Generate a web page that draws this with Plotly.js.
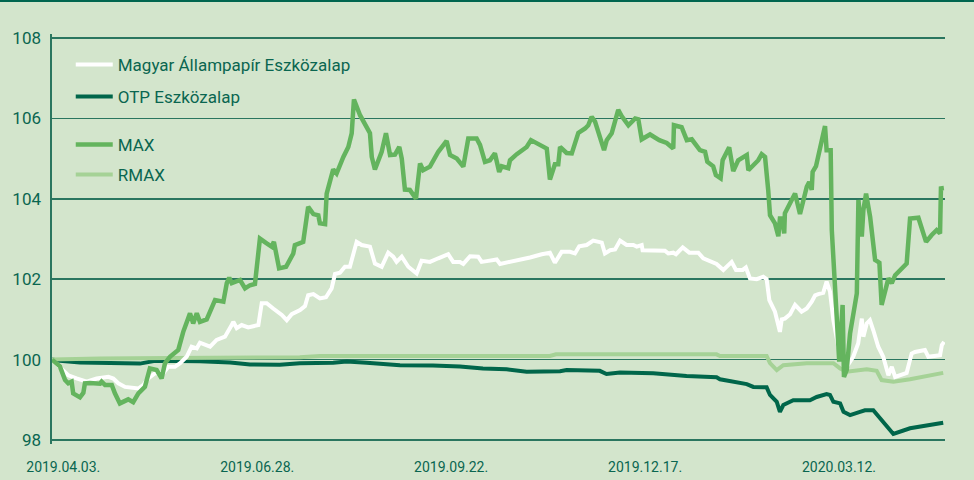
<!DOCTYPE html>
<html>
<head>
<meta charset="utf-8">
<script src="https://cdn.plot.ly/plotly-3.0.1.min.js"></script>
<style>html,body{margin:0;padding:0;background:#d3e5cc;}#chart{width:974px;height:480px;}</style>
</head>
<body>
<div id="chart"></div>
<script>
// x values: days since 2019.04.03.
const tickDays = [0, 86, 172, 258, 344];
const tickLabels = ["2019.04.03.", "2019.06.28.", "2019.09.22.", "2019.12.17.", "2020.03.12."];
const yTicks = [98, 100, 102, 104, 106, 108];
const seriesNames = ["Magyar Állampapír Eszközalap", "OTP Eszközalap", "MAX", "RMAX"];

const maxDays = [-5,-1.5,0.8,2.2,3.7,4.4,7.4,8.9,9.6,11.8,16.3,17,18.5,21.5,22.9,25.1,28.8,31,33.3,36.2,38.4,41.4,43.6,45.1,47.3,51,53.2,56.2,57.6,59.2,60.6,63.6,67.3,71,72.5,73.6,74.7,78.4,80.6,82.8,85,87.2,90.2,92.4,93.4,94.6,95.7,98.8,100.5,102,102.7,106.4,108.6,110.9,113.1,113.8,116.1,116.8,119.7,121.2,124.2,126.4,127.9,128.9,131.6,136,136.8,138.2,141.2,143.1,144.9,147.1,149,150.1,151.5,153.7,156.4,158.2,159.6,162.6,166.3,170,171.5,174.5,177.4,179.6,183.3,184.8,187,189.2,191.4,193.3,194.4,197.3,198.1,201.1,205.5,207.4,214.4,215.8,218,219.5,220.3,223.2,225.5,228.4,231.4,232.8,234.3,235.8,239.8,241,243.2,244.7,246.1,247.6,250.6,253.6,255,256.5,260.2,264.3,267.6,270.5,270.8,274.2,276.5,278.7,282.3,284.6,285.6,288.2,289.4,291.5,292.4,295.3,297.1,299.3,303.1,303.8,306,308.2,309.7,311.2,312.6,313.4,315.6,317.1,317.8,318.7,319.7,320,324.5,326.7,329.7,330.8,331.9,332.3,333.8,335.6,337.8,338.5,340.3,340.8,342.2,344.1,345.6,346.2,347.4,348.9,351.9,352.6,354.1,354.8,356,357.8,360,361.9,362.9,365.9,367.4,368.9,374,375.5,379.2,380.7,382.6,385.1,387.3,388.8,389.2,390.5];
const maxValues = [100,99.83,99.49,99.41,99.45,99.16,99.06,99.17,99.41,99.42,99.4,99.45,99.37,99.37,99.16,98.91,99.01,98.94,99.16,99.32,99.78,99.74,99.53,99.91,100.07,100.24,100.69,101.15,100.9,101.15,100.94,101,101.48,101.44,101.9,102.04,101.9,101.98,101.77,101.85,101.88,103.01,102.89,102.81,102.93,102.6,102.27,102.31,102.52,102.64,102.85,102.93,103.8,103.62,103.59,103.39,103.37,104.13,104.73,104.63,105.04,105.29,105.63,106.47,106.08,105.63,105.04,104.73,105.17,105.63,105.09,105.1,105.29,105,104.23,104.22,104,104.88,104.71,104.8,105.17,105.44,105.09,105,104.8,105.5,105.5,105.34,104.92,104.96,105.13,104.67,104.81,104.76,104.96,105.11,105.29,105.46,105.25,104.48,104.86,104.86,105.29,105.14,105.13,105.64,105.75,105.83,106.04,105.92,105.21,105.46,105.63,105.92,106.21,106.06,105.83,106,105.98,105.48,105.6,105.46,105.39,105.25,105.83,105.78,105.46,105.48,105.21,105.17,104.92,104.81,104.59,104.51,104.96,105.28,104.69,104.96,105.09,104.71,104.85,104.96,105.11,105.04,104.22,103.59,103.39,103.07,103.51,103.51,103.14,103.64,104.13,103.62,104.3,104.42,104.22,104.67,104.81,105.25,105.81,105.21,105.21,103.22,101.9,99.95,101.36,99.57,99.74,100.65,101.65,103.97,103.06,103.72,104.13,103.55,102.48,102.41,101.36,102.02,101.9,102.1,102.39,103.51,103.53,103.3,102.93,103.1,103.22,103.14,104.26,104.27];

const mapDays = [-5,0,2.2,5.9,8.9,10.4,14.8,20,22.2,24.4,27.4,33.3,35.5,37.7,40.7,44.3,46.6,49.5,51.8,54.7,56.9,59.2,60.6,65.1,68,71.7,74.3,75.4,76.9,79.1,82,86.5,88,90.2,93.1,96.9,99.1,101.3,105,107.2,108.6,110.9,113.8,116.5,119,120.5,122.7,124.9,127.1,128.3,130.1,132.3,136,138.2,141.2,144.1,146.3,147.8,150.1,153,156.7,158.9,162.6,166.3,170.7,172.9,175.9,177.4,180.4,184,185.5,187.8,192.2,193.7,198.1,202.5,207,212.2,215.8,218,221,224.7,226.9,228.8,232.1,235,238.8,240.2,242.5,244.7,246.9,249.8,252.8,254.3,256.5,256.9,264.3,266.8,268.3,270.5,271.7,274.7,277.6,281.6,283.8,289.7,292.7,296.4,298.3,301.3,302.7,304.5,307.5,310.4,311.9,313.1,315.6,317.8,318.6,320,322.3,324.5,327.4,329.7,331.9,333.4,334.8,337,338.5,340,341.5,343.7,345.9,347.4,350.3,352.5,354.1,354.8,356.3,357.7,359.2,361.4,363.6,365.9,367.4,368.9,374,376.2,377.7,382.1,383.6,388.8,389.6,390.6];
const mapValues = [100,99.74,99.61,99.53,99.49,99.45,99.53,99.57,99.53,99.41,99.32,99.28,99.37,99.53,99.66,99.66,99.82,99.82,99.91,100.07,100.32,100.28,100.42,100.32,100.49,100.57,100.82,100.94,100.78,100.86,100.8,100.86,101.4,101.4,101.27,101.11,100.98,101.13,101.23,101.33,101.6,101.63,101.52,101.55,101.77,102.13,102.16,102.31,102.31,102.6,102.93,102.85,102.81,102.39,102.31,102.66,102.56,102.43,102.56,102.31,102.14,102.46,102.43,102.52,102.62,102.43,102.43,102.38,102.57,102.56,102.43,102.45,102.49,102.38,102.43,102.49,102.54,102.62,102.66,102.41,102.68,102.68,102.64,102.82,102.85,102.96,102.91,102.64,102.72,102.74,102.96,102.85,102.85,102.81,102.85,102.72,102.72,102.71,102.64,102.66,102.62,102.79,102.66,102.66,102.52,102.38,102.23,102.43,102.23,102.23,102.29,102.02,102,102.06,102,101.48,101.19,100.69,101,101.02,101.13,101.36,101.19,101.27,101.44,101.6,101.63,101.66,101.94,101.69,100.98,100.32,100.07,99.82,100.07,100.4,101.02,100.57,100.9,100.98,100.73,100.32,100.07,99.61,99.82,99.57,99.67,100.15,100.19,100.24,100.07,100.11,100.36,100.44];

const otpDays = [-5,-1.5,7.4,14,25.1,34,40.7,47.3,60.6,74,82.8,96,104.9,119.7,125.7,134.5,149.3,163.9,175.9,186.1,196.6,205.5,220.3,223.2,237.9,240.9,246.9,261.6,276.4,289.7,291.2,303.1,306,311.9,313.4,316.4,317.8,319.3,323.7,331.1,334.1,338.5,340,341.5,344.5,346,348.9,353.3,355.5,359.2,365.1,368.1,375.5,382.9,390.2];
const otpValues = [100,99.97,99.93,99.92,99.9,99.9,99.97,99.97,99.96,99.93,99.88,99.87,99.91,99.92,99.95,99.92,99.86,99.85,99.83,99.78,99.76,99.7,99.71,99.74,99.72,99.64,99.68,99.66,99.59,99.56,99.51,99.39,99.32,99.31,99.12,98.95,98.7,98.87,98.99,98.99,99.07,99.14,99.12,98.95,98.91,98.7,98.62,98.7,98.74,98.74,98.33,98.15,98.29,98.37,98.43];

const rmaxDays = [-5,16.3,47.3,82.8,104.9,113.8,215.8,218.5,289.7,291.2,311.9,313.4,316.4,319.3,329.7,341.5,344.5,347.4,350.2,356.3,360.7,362.9,368.1,375.5,390.2];
const rmaxValues = [100,100.03,100.04,100.05,100.06,100.09,100.09,100.13,100.13,100.09,100.09,99.91,99.74,99.86,99.91,99.91,99.78,99.7,99.72,99.76,99.72,99.49,99.45,99.51,99.67];

const textColor = "#0a6650";
const gridColor = "#2a765f";
const fontFam = "Roboto, 'Open Sans', sans-serif";

function tr(x, y, name, color, width, legend) {
  return {x: x, y: y, name: name, type: "scatter", mode: "lines",
    line: {color: color, width: width}, legend: legend, hoverinfo: "skip"};
}
const data = [
  tr(otpDays, otpValues, seriesNames[1], "#00664a", 4, "legend2"),
  tr(rmaxDays, rmaxValues, seriesNames[3], "#a5d296", 4, "legend4"),
  tr(mapDays, mapValues, seriesNames[0], "#ffffff", 4, "legend"),
  tr(maxDays, maxValues, seriesNames[2], "#64b45e", 4.5, "legend3")
];

// plot area: top 34px, height 410px, range 97.9..108.1
function leg(y) {
  return {x: 0.021, xanchor: "left", y: y, yanchor: "middle", bgcolor: "rgba(0,0,0,0)",
    borderwidth: 0, itemwidth: 37, font: {family: fontFam, size: 17, color: textColor}};
}

const layout = {
  width: 974, height: 480,
  paper_bgcolor: "#d3e5cc", plot_bgcolor: "#d3e5cc",
  margin: {l: 52, r: 29, t: 34, b: 36},
  font: {family: fontFam, color: textColor},
  showlegend: true,
  legend: leg((444 - 65) / 410), legend2: leg((444 - 97) / 410),
  legend3: leg((444 - 145) / 410), legend4: leg((444 - 175) / 410),
  xaxis: {range: [-5, 391], tickvals: tickDays, ticktext: tickLabels, showgrid: false,
    zeroline: false, showline: false, ticks: "", ticklabelstandoff: 13,
    tickfont: {family: fontFam, size: 14, color: textColor}, fixedrange: true},
  yaxis: {range: [97.9, 108.1], tickvals: yTicks, showgrid: true,
    gridcolor: gridColor, gridwidth: 1.6, zeroline: false, showline: true, linecolor: gridColor,
    linewidth: 1.6, ticks: "", ticklabelstandoff: 6,
    tickfont: {family: fontFam, size: 17, color: textColor}, fixedrange: true},
  shapes: [{type: "line", xref: "paper", yref: "paper", x0: -0.06, x1: 1.04,
    y0: (444 - 1) / 410, y1: (444 - 1) / 410, line: {color: "#00664f", width: 2}}]
};
Plotly.newPlot("chart", data, layout, {displayModeBar: false, staticPlot: true});
</script>
</body>
</html>
